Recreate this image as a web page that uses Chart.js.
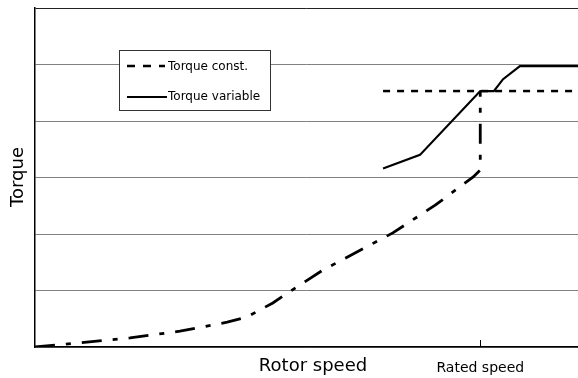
<!DOCTYPE html>
<html>
<head>
<meta charset="utf-8">
<script src="https://cdn.jsdelivr.net/npm/chart.js@4/dist/chart.umd.min.js"></script>
<style>
    body { margin: 0; background: #fff; }
    #wrap { width: 578px; height: 378px; position: relative; }
</style>
</head>
<body>
<div id="wrap"><canvas id="chart"></canvas></div>
<script>
// 데이터 (x: 회전 속도 0~100, y: 토크 0~6)
const ratedSpeed = 82;
const yTicks = [0, 1, 2, 3, 4, 5, 6];

// 정격 이하 곡선 (일점쇄선)
const lowSpeed  = [0, 17.5, 26.7, 35.4, 39.0, 43.8, 46.6, 53.0, 65.9, 73.7, 80.7, 82, 82];
const lowTorque = [0, 0.16, 0.28, 0.44, 0.53, 0.78, 0.96, 1.36, 2.02, 2.51, 3.01, 3.13, 4.53];

// Torque const. (점선)
const constSpeed  = [64.1, 100];
const constTorque = [4.53, 4.53];

// Torque variable (실선)
const varSpeed  = [64.1, 70.9, 82, 84.5, 86.2, 89.3, 100];
const varTorque = [3.16, 3.40, 4.53, 4.53, 4.74, 4.97, 4.97];

function toPoints(xs, ys) {
    return xs.map((x, i) => ({x: x, y: ys[i]}));
}

const FONT = "'DejaVu Sans', sans-serif";

// 범례, 축 제목, 정격 눈금 그리기
const extras = {
    id: 'extras',
    afterDraw(chart) {
        const ctx = chart.ctx;
        const area = chart.chartArea;
        const xs = chart.scales.x;
        ctx.save();

        // 정격 속도 눈금 (안쪽)
        const rx = Math.round(xs.getPixelForValue(ratedSpeed)) + 0.5;
        ctx.strokeStyle = '#000';
        ctx.lineWidth = 1;
        ctx.beginPath();
        ctx.moveTo(rx, area.bottom - 7);
        ctx.lineTo(rx, area.bottom);
        ctx.stroke();

        // 범례 박스
        ctx.fillStyle = '#fff';
        ctx.fillRect(119.5, 50.5, 151, 60);
        ctx.strokeStyle = '#333';
        ctx.strokeRect(119.5, 50.5, 151, 60);

        ctx.strokeStyle = '#000';
        ctx.lineWidth = 2.5;
        ctx.setLineDash([8, 8]);
        ctx.beginPath();
        ctx.moveTo(127, 66);
        ctx.lineTo(165, 66);
        ctx.stroke();
        ctx.setLineDash([]);
        ctx.lineWidth = 2.2;
        ctx.beginPath();
        ctx.moveTo(127, 97);
        ctx.lineTo(167, 97);
        ctx.stroke();

        ctx.fillStyle = '#000';
        ctx.font = '12px ' + FONT;
        ctx.textBaseline = 'middle';
        ctx.textAlign = 'left';
        ctx.fillText('Torque const.', 168, 67);
        ctx.fillText('Torque variable', 168, 97);

        // 축 제목
        ctx.font = '18px ' + FONT;
        ctx.textAlign = 'center';
        ctx.fillText('Rotor speed', 313, 366);
        ctx.translate(18, 177);
        ctx.rotate(-Math.PI / 2);
        ctx.fillText('Torque', 0, 0);
        ctx.restore();
    }
};

new Chart(document.getElementById('chart'), {
    type: 'line',
    data: {
        datasets: [{
            label: 'Torque const.',
            data: toPoints(constSpeed, constTorque),
            borderColor: '#000',
            borderWidth: 2.5,
            borderDash: [7, 7],
            pointRadius: 0,
            tension: 0
        }, {
            label: 'Torque variable',
            data: toPoints(varSpeed, varTorque),
            borderColor: '#000',
            borderWidth: 2.2,
            pointRadius: 0,
            tension: 0
        }, {
            label: 'Torque (below rated)',
            data: toPoints(lowSpeed, lowTorque),
            borderColor: '#000',
            borderWidth: 2.8,
            borderDash: [20, 11, 5, 11],
            pointRadius: 0,
            tension: 0
        }]
    },
    options: {
        responsive: true,
        maintainAspectRatio: false,
        animation: false,
        layout: {padding: {left: 35, top: 8, right: 0, bottom: 2}},
        plugins: {
            legend: {display: false},
            tooltip: {enabled: false}
        },
        scales: {
            x: {
                type: 'linear',
                min: 0,
                max: 100,
                afterBuildTicks: function (scale) {
                    scale.ticks = [{value: ratedSpeed}];
                },
                afterFit: function (scale) {
                    scale.height = 29;
                },
                ticks: {
                    color: '#000',
                    font: {family: FONT, size: 14},
                    padding: 13,
                    maxRotation: 0,
                    callback: function () { return 'Rated speed'; }
                },
                grid: {display: false, drawTicks: false},
                border: {display: true, color: '#000', width: 1.5}
            },
            y: {
                min: 0,
                max: 6,
                afterBuildTicks: function (scale) {
                    scale.ticks = yTicks.map(v => ({value: v}));
                },
                ticks: {display: false},
                grid: {
                    drawTicks: false,
                    color: function (c) { return c.tick.value === 6 ? '#222' : '#808080'; },
                    lineWidth: 1
                },
                border: {display: true, color: '#000', width: 1.5}
            }
        }
    },
    plugins: [extras]
});
</script>
</body>
</html>
